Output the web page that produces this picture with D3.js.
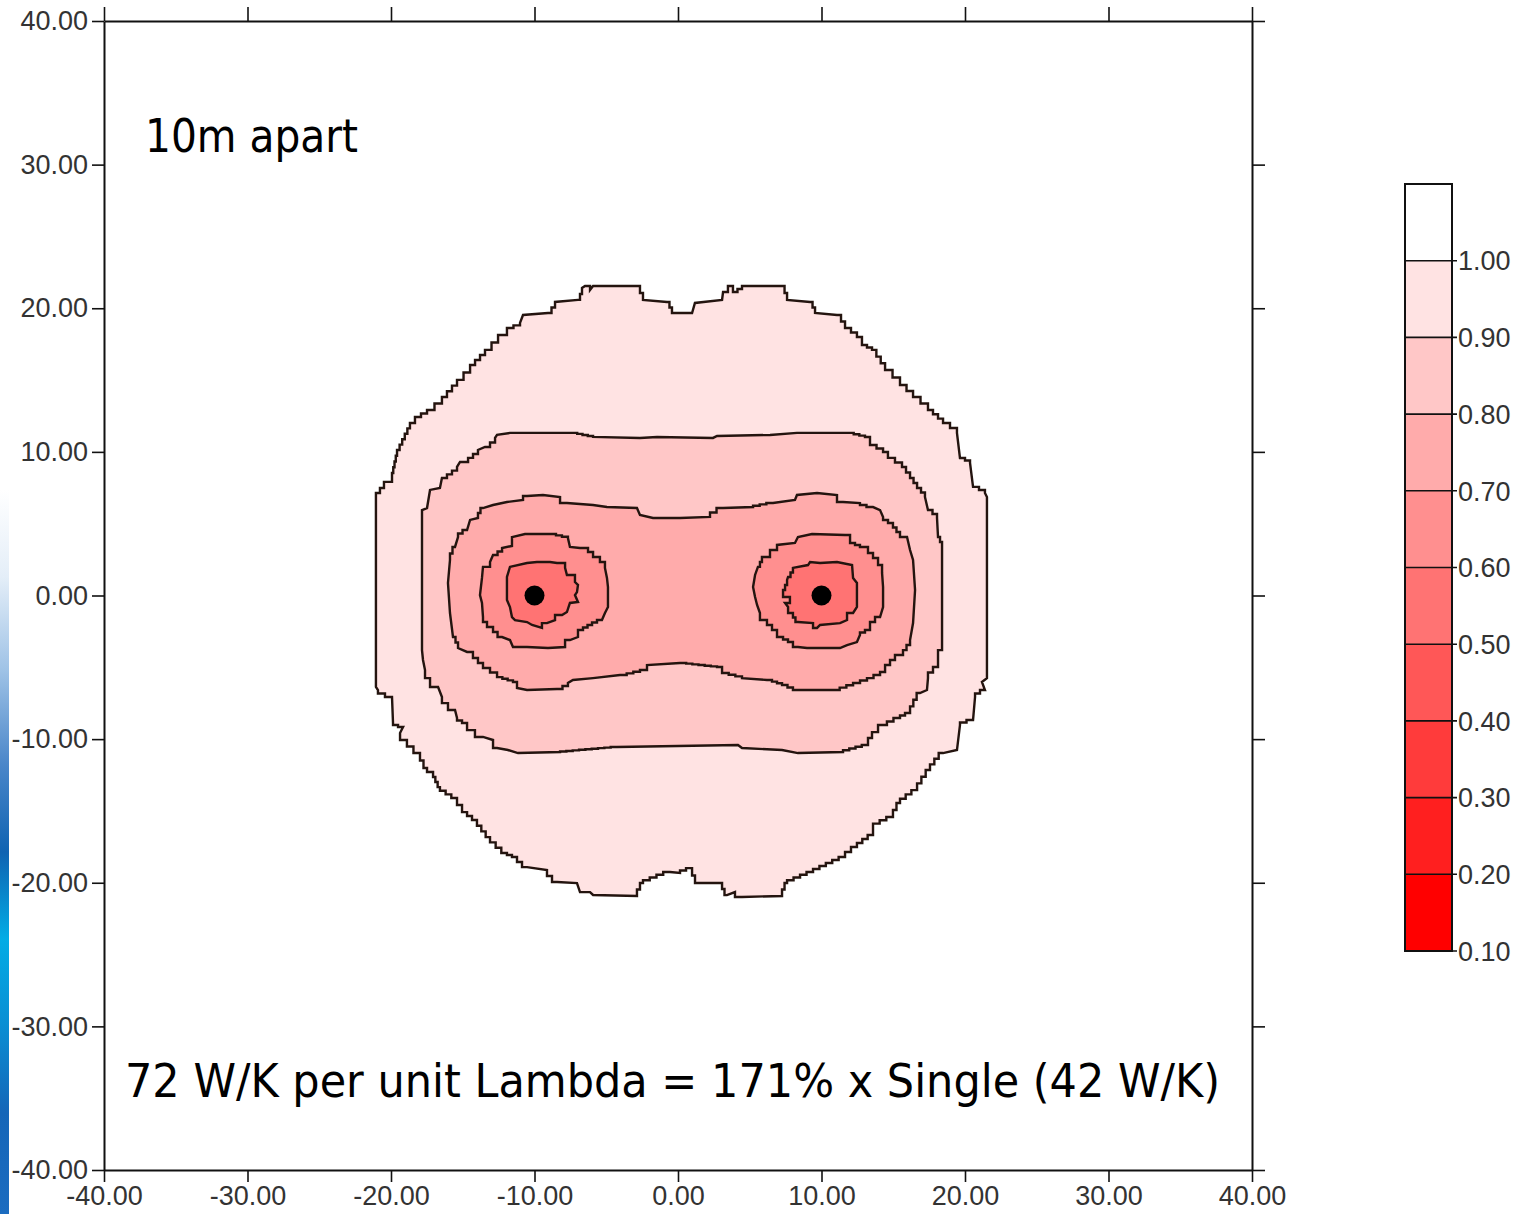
<!DOCTYPE html>
<html>
<head>
<meta charset="utf-8">
<script src="https://cdn.jsdelivr.net/npm/d3@7"></script>
<style>
  html, body { margin: 0; padding: 0; background: #ffffff; }
  svg { display: block; }
</style>
</head>
<body>
<script>
// ---- Data (metres; contour rings in data units, level = relative temperature) ----
const tickValues = [-40, -30, -20, -10, 0, 10, 20, 30, 40];
const legendLevels = [1.0, 0.9, 0.8, 0.7, 0.6, 0.5, 0.4, 0.3, 0.2, 0.1];
// colours of bands 0.1-0.2, 0.2-0.3, ... 0.9-1.0, above 1.0
const bandColors = ["#ff0000", "#ff1f1f", "#ff3b3b", "#ff5757", "#ff7373",
                    "#ff8f8f", "#ffabab", "#ffc7c7", "#ffe3e3", "#ffffff"];
const sources = [[-10, 0], [10, 0]];

const ring100 = [
  [-21.05, 7.14], [-20.77, 7.49], [-20.49, 7.91], [-19.93, 8.53], [-19.58, 10.13], [-18.68, 12.01],
  [-18.33, 12.43], [-17.49, 12.92], [-16.45, 13.82], [-15.40, 15.01], [-14.49, 16.05], [-13.45, 17.10],
  [-12.54, 18.14], [-11.92, 18.63], [-11.01, 18.98], [-10.80, 19.53], [-9.06, 19.67], [-8.57, 20.44],
  [-6.97, 20.58], [-6.69, 21.41], [-6.48, 21.55], [-6.13, 21.27], [-5.92, 21.55], [-2.86, 21.55],
  [-2.44, 20.58], [-0.77, 20.44], [-0.42, 19.67], [0.98, 19.67], [1.18, 20.37], [3.07, 20.58],
  [3.14, 21.13], [3.48, 21.55], [3.83, 21.13], [4.46, 21.55], [7.25, 21.55], [7.60, 20.58],
  [9.20, 20.44], [9.55, 19.67], [11.08, 19.53], [11.64, 18.63], [12.47, 18.00], [12.82, 17.44],
  [13.52, 17.10], [14.43, 15.70], [15.47, 14.66], [16.38, 13.82], [17.42, 12.92], [18.47, 12.01],
  [19.44, 11.32], [19.65, 9.57], [20.35, 9.23], [20.56, 7.56], [21.39, 7.14], [21.53, 6.86],
  [21.53, -5.75], [21.18, -6.02], [21.39, -6.58], [20.70, -7.07], [20.56, -8.67], [19.65, -9.02],
  [19.44, -10.76], [18.47, -10.97], [17.56, -12.15], [16.66, -13.55], [15.47, -14.45], [14.98, -15.42],
  [13.59, -16.12], [13.59, -16.68], [12.47, -17.51], [11.64, -18.21], [9.41, -19.25], [7.60, -20.02],
  [7.25, -20.92], [4.46, -20.99], [3.97, -20.65], [3.41, -20.86], [3.07, -20.02], [1.39, -20.02],
  [0.98, -18.98], [0.14, -19.32], [-0.56, -19.25], [-2.44, -20.02], [-2.86, -20.92], [-5.92, -20.85],
  [-6.13, -20.65], [-6.83, -20.65], [-7.04, -20.02], [-8.43, -19.95], [-9.13, -19.11], [-10.52, -18.91],
  [-11.22, -18.21], [-11.92, -17.93], [-13.10, -16.82], [-14.01, -15.63], [-14.70, -15.08], [-15.40, -14.10],
  [-16.59, -13.34], [-17.07, -12.29], [-17.49, -12.01], [-17.98, -10.97], [-18.89, -10.06], [-19.37, -9.57],
  [-19.16, -9.16], [-19.86, -8.88], [-19.93, -7.07], [-20.91, -6.58], [-21.05, -6.37], [-21.05, -5.54]
];

const ring090 = [
  [-17.84, 5.95], [-17.49, 6.09], [-17.28, 7.35], [-16.59, 7.49], [-16.45, 8.18], [-15.40, 8.95],
  [-15.19, 9.30], [-14.63, 9.58], [-13.94, 10.13], [-13.45, 10.34], [-12.75, 10.97], [-12.61, 11.18],
  [-11.71, 11.32], [-7.39, 11.32], [-5.92, 11.04], [-2.65, 10.97], [-1.46, 11.04], [2.44, 10.97],
  [2.72, 11.11], [6.41, 11.18], [8.29, 11.32], [11.85, 11.32], [13.03, 11.04], [13.38, 10.48],
  [14.29, 9.99], [14.63, 9.58], [15.61, 8.95], [16.17, 8.18], [16.66, 7.49], [17.21, 6.86],
  [17.42, 5.95], [18.05, 5.40], [18.12, 4.07], [18.40, 3.38], [18.40, -3.80], [18.12, -4.14],
  [18.12, -4.98], [17.42, -5.75], [17.35, -6.58], [16.86, -6.79], [16.17, -8.18], [15.47, -8.53],
  [14.56, -9.02], [13.94, -9.51], [13.52, -9.92], [13.24, -10.41], [11.50, -10.90], [8.36, -10.97],
  [7.25, -10.76], [4.46, -10.62], [4.18, -10.41], [-4.25, -10.55], [-8.22, -10.90], [-11.15, -10.97],
  [-11.85, -10.76], [-12.61, -10.62], [-12.89, -10.06], [-13.59, -9.85], [-14.15, -9.37], [-14.70, -8.88],
  [-15.40, -8.53], [-15.54, -7.97], [-16.03, -7.49], [-16.45, -7.07], [-16.72, -6.37], [-17.28, -5.75],
  [-17.63, -5.19], [-17.77, -4.49], [-17.84, -3.80]
];

const ring080 = [
  [0.14, 5.40], [-1.74, 5.40], [-2.65, 5.61], [-2.86, 6.09], [-4.95, 6.16], [-5.92, 6.30],
  [-7.74, 6.44], [-8.22, 6.86], [-9.41, 7.00], [-10.52, 6.93], [-10.80, 6.65], [-11.92, 6.51],
  [-12.89, 6.30], [-13.59, 6.09], [-13.94, 5.40], [-14.49, 5.26], [-14.70, 4.56], [-15.33, 4.07],
  [-15.54, 3.38], [-15.89, 2.47], [-16.03, 0.87], [-15.89, -1.22], [-15.68, -2.89], [-15.33, -3.66],
  [-14.70, -3.93], [-14.29, -4.35], [-13.59, -5.05], [-12.61, -5.68], [-11.50, -6.02], [-11.22, -6.44],
  [-10.52, -6.58], [-8.43, -6.51], [-7.67, -6.09], [-7.32, -5.88], [-5.92, -5.75], [-4.04, -5.54],
  [-2.65, -5.19], [-2.16, -4.84], [0.14, -4.70], [2.72, -4.98], [3.07, -5.40], [4.46, -5.75],
  [6.20, -5.88], [7.25, -6.23], [8.01, -6.58], [10.80, -6.58], [12.20, -6.09], [13.17, -5.75],
  [14.08, -5.33], [14.43, -4.84], [15.12, -4.14], [15.68, -3.80], [16.17, -3.10], [16.38, -1.92],
  [16.52, 0.38], [16.38, 2.47], [16.17, 3.17], [15.96, 4.07], [15.47, 4.42], [14.98, 5.05],
  [14.29, 5.47], [14.08, 5.95], [13.59, 6.16], [12.68, 6.44], [11.50, 6.51], [11.08, 7.00],
  [9.69, 7.14], [8.29, 7.00], [8.15, 6.65], [6.62, 6.44], [5.23, 6.16], [3.14, 6.09], [2.23, 5.47]
];

const ring070Left = [
  [-11.57, 4.07], [-10.66, 4.28], [-8.92, 4.28], [-7.67, 4.00], [-7.53, 3.38], [-6.83, 3.31],
  [-6.27, 3.03], [-5.92, 2.68], [-5.44, 2.33], [-5.09, 1.92], [-4.95, 1.22], [-4.88, 0.59],
  [-4.88, -0.80], [-5.09, -1.22], [-5.30, -1.71], [-5.99, -2.05], [-6.62, -2.40], [-6.97, -2.89],
  [-7.53, -3.10], [-7.87, -3.59], [-9.06, -3.66], [-10.52, -3.59], [-11.50, -3.59], [-11.71, -3.10],
  [-12.26, -2.89], [-12.89, -2.19], [-13.31, -1.85], [-13.59, -1.50], [-13.66, -0.52], [-13.80, 0.03],
  [-13.66, 1.22], [-13.59, 1.99], [-13.10, 2.33], [-12.89, 2.82], [-12.26, 3.31], [-11.57, 3.45]
];

const ring070Right = [
  [6.41, 3.17], [6.90, 3.52], [8.15, 3.66], [8.36, 4.07], [9.34, 4.28], [11.64, 4.21],
  [11.99, 3.66], [12.68, 3.38], [13.24, 2.96], [13.59, 2.61], [13.94, 2.12], [14.22, 1.57],
  [14.29, 0.59], [14.29, -0.80], [14.08, -1.50], [13.73, -1.85], [13.38, -2.40], [12.68, -2.75],
  [12.47, -3.24], [11.78, -3.45], [11.29, -3.66], [8.99, -3.66], [8.36, -3.59], [8.01, -3.24],
  [7.32, -2.89], [6.90, -2.40], [6.20, -1.71], [5.71, -1.22], [5.51, -0.66], [5.37, -0.10],
  [5.23, 0.59], [5.37, 1.43], [5.57, 1.99], [5.85, 2.68]
];

const ring060Left = [
  [-11.71, 1.99], [-10.52, 2.26], [-9.83, 2.33], [-8.92, 2.33], [-8.43, 2.26], [-7.87, 1.92],
  [-7.74, 1.43], [-7.18, 0.94], [-6.97, 0.73], [-7.04, 0.24], [-7.18, 0.03], [-6.97, -0.45],
  [-7.53, -0.52], [-7.74, -1.15], [-8.08, -1.36], [-8.57, -1.71], [-9.13, -1.92], [-9.48, -2.26],
  [-10.17, -2.05], [-10.52, -1.85], [-11.36, -1.71], [-11.57, -1.50], [-11.71, -0.80], [-11.92, -0.31],
  [-11.92, 1.29]
];

const ring060Right = [
  [8.01, 1.92], [9.06, 2.12], [9.20, 2.33], [9.90, 2.26], [11.08, 2.33], [12.13, 2.12],
  [12.20, 1.22], [12.47, 0.87], [12.47, -0.80], [12.20, -1.22], [11.78, -1.71], [11.29, -1.92],
  [9.90, -2.05], [9.69, -2.26], [9.41, -1.92], [8.36, -1.85], [8.01, -1.22], [7.67, -0.80],
  [7.46, -0.52], [7.80, -0.10], [7.32, 0.38], [7.60, 1.08], [7.67, 1.29]
];

const contours = [
  { level: 1.0, ring: ring100 },
  { level: 0.9, ring: ring090 },
  { level: 0.8, ring: ring080 },
  { level: 0.7, ring: ring070Left },
  { level: 0.7, ring: ring070Right },
  { level: 0.6, ring: ring060Left },
  { level: 0.6, ring: ring060Right }
];

const titleText = "10m apart";
const noteText = "72 W/K per unit Lambda = 171% x Single (42 W/K)";

// ---- Layout ----
const W = 1513, H = 1214;
const x = d3.scaleLinear().domain([-40, 40]).range([104, 1252]);
const y = d3.scaleLinear().domain([-40, 40]).range([1170, 21]);
const color = d3.scaleThreshold()
  .domain([0.2, 0.3, 0.4, 0.5, 0.6, 0.7, 0.8, 0.9, 1.0])
  .range(bandColors);

const svg = d3.select("body").append("svg")
  .attr("width", W).attr("height", H)
  .attr("viewBox", `0 0 ${W} ${H}`);

// slide edge strip on the far left
const defs = svg.append("defs");
const grad = defs.append("linearGradient").attr("id", "edgeStrip")
  .attr("x1", 0).attr("y1", 0).attr("x2", 0).attr("y2", 1);
[[0, "#ffffff"], [0.12, "#e4eef8"], [0.25, "#9ec2e6"], [0.38, "#4a86c9"], [0.5, "#0f63b2"],
 [0.62, "#02ace5"], [0.74, "#0a8ed3"], [0.86, "#1566b8"], [1, "#1b6cc0"]]
  .forEach(([o, c]) => grad.append("stop").attr("offset", o).attr("stop-color", c));
svg.append("rect").attr("x", 0).attr("y", 490).attr("width", 9).attr("height", H - 490)
  .attr("fill", "url(#edgeStrip)");

// plot background
svg.append("rect")
  .attr("x", x(-40)).attr("y", y(40))
  .attr("width", x(40) - x(-40)).attr("height", y(-40) - y(40))
  .attr("fill", "#ffffff");

// Contour rings are drawn as grid-stepped outlines, like a gridded contourer would
const STEP = 6;
function steppedPath(ring) {
  const pts = ring.map(([a, b]) => [x(a), y(b)]);
  const out = [];
  for (let i = 0; i < pts.length; i++) {
    const p = pts[i], q = pts[(i + 1) % pts.length];
    out.push(p);
    const dx = q[0] - p[0], dy = q[1] - p[1];
    if (Math.abs(dx) > 4 && Math.abs(dy) > 4) {
      const n = Math.max(1, Math.round(Math.max(Math.abs(dx), Math.abs(dy)) / STEP));
      for (let k = 0; k < n; k++) {
        const x0 = p[0] + dx * k / n, y0 = p[1] + dy * k / n;
        out.push([x0 + dx / n, y0]);
        if (k < n - 1) out.push([x0 + dx / n, y0 + dy / n]);
      }
    }
  }
  return d3.line()(out) + "Z";
}

svg.append("g").attr("class", "contours")
  .selectAll("path")
  .data(contours)
  .join("path")
  .attr("d", d => steppedPath(d.ring))
  .attr("fill", d => color(d.level - 0.05))
  .attr("stroke", "#24140f")
  .attr("stroke-width", 2.4)
  .attr("stroke-linejoin", "miter");

// source points
svg.append("g").selectAll("circle")
  .data(sources)
  .join("circle")
  .attr("cx", d => x(d[0])).attr("cy", d => y(d[1]))
  .attr("r", 10).attr("fill", "#000000");

// ---- Axes on all four sides ----
const fmt = d => d.toFixed(2);
function styleAxis(g) {
  g.select(".domain").attr("stroke", "#111").attr("stroke-width", 2);
  g.selectAll(".tick line").attr("stroke", "#111").attr("stroke-width", 1.6);
  g.selectAll(".tick text")
    .attr("fill", "#333")
    .attr("font-family", "'Liberation Sans', Arial, sans-serif")
    .attr("font-size", 27);
}
svg.append("g").attr("transform", `translate(${x(-40)},0)`)
  .call(d3.axisLeft(y).tickValues(tickValues).tickSize(12).tickSizeOuter(0).tickPadding(4).tickFormat(fmt))
  .call(styleAxis);
svg.append("g").attr("transform", `translate(0,${y(-40)})`)
  .call(d3.axisBottom(x).tickValues(tickValues).tickSize(12).tickSizeOuter(0).tickPadding(4).tickFormat(fmt))
  .call(styleAxis);
svg.append("g").attr("transform", `translate(0,${y(40)})`)
  .call(d3.axisTop(x).tickValues(tickValues).tickSize(14).tickSizeOuter(0).tickFormat(""))
  .call(styleAxis);
svg.append("g").attr("transform", `translate(${x(40)},0)`)
  .call(d3.axisRight(y).tickValues(tickValues).tickSize(13).tickSizeOuter(0).tickFormat(""))
  .call(styleAxis);

// ---- Annotations ----
svg.append("text")
  .attr("x", 145).attr("y", 152)
  .attr("font-family", "'DejaVu Sans', Verdana, sans-serif")
  .attr("font-size", 46)
  .attr("textLength", 213).attr("lengthAdjust", "spacingAndGlyphs")
  .attr("fill", "#000")
  .text(titleText);
svg.append("text")
  .attr("x", 125).attr("y", 1097)
  .attr("font-family", "'DejaVu Sans', Verdana, sans-serif")
  .attr("font-size", 46)
  .attr("textLength", 1095).attr("lengthAdjust", "spacingAndGlyphs")
  .attr("fill", "#000")
  .text(noteText);

// ---- Colour legend ----
const ly = d3.scaleLinear().domain([0.1, 1.1]).range([951, 184]);
const lx0 = 1405, lx1 = 1452;
const legendBands = d3.range(10).map(i => ({ lo: 0.1 + i * 0.1, hi: 0.2 + i * 0.1, c: bandColors[i] }));
const lg = svg.append("g").attr("class", "legend");
lg.selectAll("rect.band")
  .data(legendBands)
  .join("rect")
  .attr("class", "band")
  .attr("x", lx0).attr("width", lx1 - lx0)
  .attr("y", d => ly(d.hi)).attr("height", d => ly(d.lo) - ly(d.hi))
  .attr("fill", d => d.c);
lg.append("rect")
  .attr("x", lx0).attr("y", ly(1.1))
  .attr("width", lx1 - lx0).attr("height", ly(0.1) - ly(1.1))
  .attr("fill", "none").attr("stroke", "#111").attr("stroke-width", 2);
lg.selectAll("line.sep")
  .data(legendLevels)
  .join("line")
  .attr("class", "sep")
  .attr("x1", lx0).attr("x2", lx1 + 5)
  .attr("y1", d => ly(d)).attr("y2", d => ly(d))
  .attr("stroke", "#111").attr("stroke-width", 1.6);
lg.selectAll("text")
  .data(legendLevels)
  .join("text")
  .attr("x", lx1 + 6).attr("y", d => ly(d))
  .attr("dy", "0.36em")
  .attr("fill", "#333")
  .attr("font-family", "'Liberation Sans', Arial, sans-serif")
  .attr("font-size", 27)
  .text(d => d.toFixed(2));
</script>
</body>
</html>
